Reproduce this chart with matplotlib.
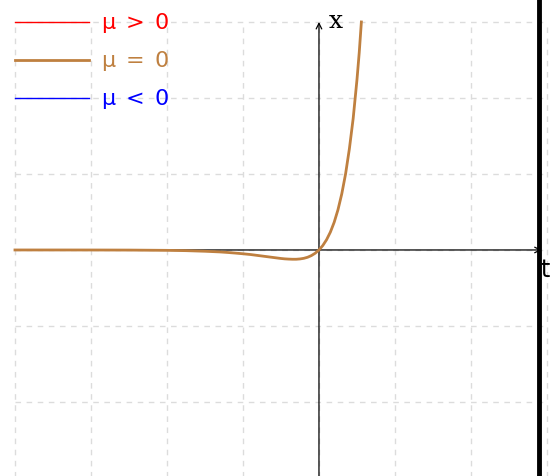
import matplotlib.pyplot as plt
import numpy as np

# points along the curve x(t) (mu = 0 case)
t_vals = [-4.0, -3.5, -3.0, -2.5, -2.0, -1.75, -1.5, -1.3, -1.2, -1.1, -1.0, -0.9,
          -0.8, -0.7, -0.6, -0.5, -0.45, -0.4, -0.35, -0.3, -0.25, -0.2, -0.15,
          -0.1, -0.05, 0.0, 0.05, 0.1, 0.15, 0.2, 0.25, 0.3, 0.35, 0.4, 0.45,
          0.5, 0.53, 0.558]
x_vals = [0.0, -0.0001, -0.0004, -0.0014, -0.005, -0.009, -0.017, -0.026, -0.033,
          -0.041, -0.050, -0.060, -0.073, -0.086, -0.099, -0.112, -0.117, -0.120,
          -0.122, -0.122, -0.118, -0.110, -0.096, -0.074, -0.043, 0.0, 0.058,
          0.135, 0.235, 0.364, 0.529, 0.738, 1.0, 1.33, 1.73, 2.24, 2.6, 3.0]

legend_labels = [r'$\mathrm{μ}\;>\;0$', r'$\mathrm{μ}\;=\;0$', r'$\mathrm{μ}\;<\;0$']
legend_colors = ['#ff0000', '#bf8040', '#0000ff']
legend_widths = [1.0, 2.0, 1.0]
legend_y = [3.0, 2.5, 2.0]

plt.rcParams['mathtext.fontset'] = 'dejavusans'

fig = plt.figure(figsize=(5.57, 4.76), dpi=100)
ax = fig.add_axes([0, 0, 1, 1])
ax.set_xlim(-4.197, 3.132)
ax.set_ylim(-2.974, 3.289)
ax.axis('off')

# dashed grid
for gx in range(-4, 4):
    ax.plot([gx, gx], [-3.2, 3], color='#dcdcdc', lw=1, ls=(0, (4, 4)), zorder=1)
for gy in range(-3, 4):
    ax.plot([-4, 3], [gy, gy], color='#dcdcdc', lw=1, ls=(0, (4, 4)), zorder=1)

# axes with arrow heads
ax.annotate('', xy=(2.93, 0), xytext=(-4, 0),
            arrowprops=dict(arrowstyle='->', lw=0.9, color='black', shrinkA=0, shrinkB=0),
            zorder=3)
ax.annotate('', xy=(0, 3.0), xytext=(0, -3.2),
            arrowprops=dict(arrowstyle='->', lw=0.9, color='black', shrinkA=0, shrinkB=0),
            zorder=3)
ax.text(2.97, -0.1, 't', fontsize=17, family='DejaVu Sans', ha='center', va='top')
ax.text(0.13, 3.0, 'x', fontsize=18, family='DejaVu Serif', ha='left', va='center')

ax.plot([2.89, 2.89], [-3.2, 3.4], color='black', lw=3.5, zorder=4)

ax.plot(t_vals, x_vals, color='#bf8040', lw=2.0, zorder=5)

# legend entries
for lab, col, w, yy in zip(legend_labels, legend_colors, legend_widths, legend_y):
    ax.plot([-4.0, -3.02], [yy, yy], color=col, lw=w, zorder=5)
    ax.text(-2.87, yy - 0.02, lab, color=col, fontsize=16, ha='left', va='center', zorder=5)

fig.savefig('out.png', dpi=100)
